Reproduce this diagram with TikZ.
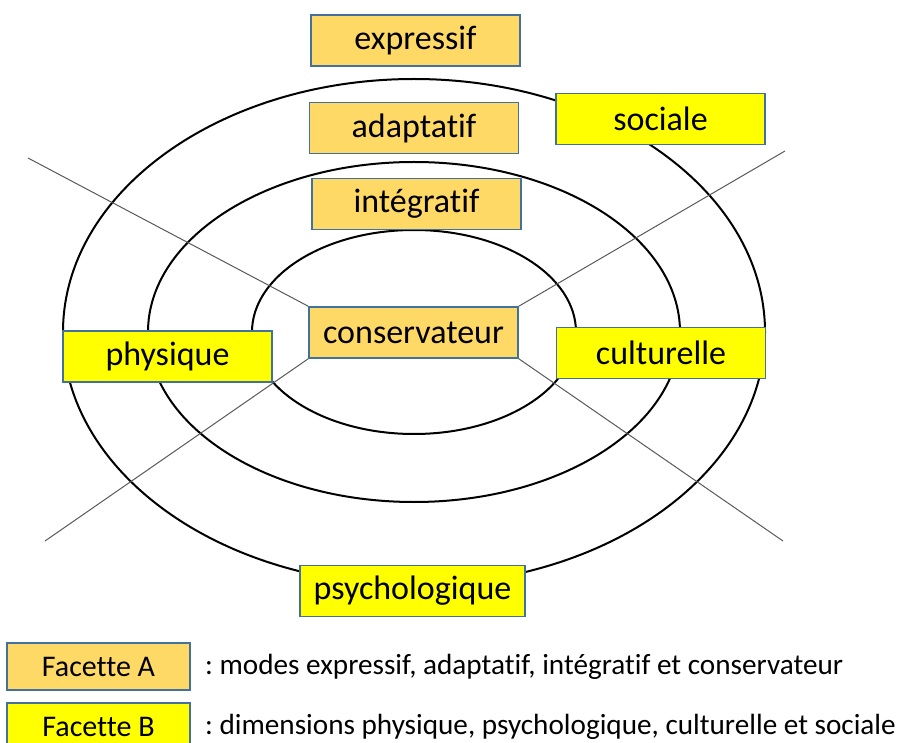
\documentclass[tikz,border=0pt]{standalone}
\usepackage{fontspec}
\setmainfont{Carlito}[RawFeature=-liga]
\usepackage{xcolor}
\usepackage{tikz}
\usetikzlibrary{positioning}
\definecolor{facetteA}{HTML}{FFD966}
\definecolor{facetteB}{HTML}{FFFF00}
\definecolor{cadre}{HTML}{41719C}
\definecolor{trait}{HTML}{595959}
\frenchspacing

\begin{document}
\begin{tikzpicture}[x=0.5pt,y=-0.5pt,
	modeA/.style={draw=cadre,line width=0.75pt,fill=facetteA,minimum width=104.5pt,minimum height=25.5pt,inner sep=0pt,font=\fontsize{17}{18}\selectfont},
	dimB/.style={modeA,fill=facetteB},
	legende/.style={draw=cadre,line width=0.75pt,minimum width=91.5pt,minimum height=23.5pt,inner sep=0pt,font=\fontsize{15}{16}\selectfont}]
	\clip (0,0) rectangle (900,743);
	% les trois anneaux
	\draw [line width=1pt] (414,332) ellipse [x radius=175.5pt, y radius=126.5pt];
	\draw [line width=1pt] (414,332) ellipse [x radius=133pt, y radius=85pt];
	\draw [line width=1pt] (414,332) ellipse [x radius=81pt, y radius=51pt];
	% facette A : les modes
	\node [modeA] (expressif) at (415.5,40.5) {expressif};
	\node [modeA] (adaptatif) at (414,128) {adaptatif};
	\node [modeA] (integratif) at (416.5,204) {intégratif};
	\node [modeA] (conservateur) at (413.5,332.5) {conservateur};
	% les axes
	\coordinate (hg) at (28,158);
	\coordinate (hd) at (785,151);
	\coordinate (bg) at (45,541);
	\coordinate (bd) at (783,541);
	\draw [trait,line width=0.5pt] (hg) -- (conservateur.north west);
	\draw [trait,line width=0.5pt] (hd) -- (conservateur.north east);
	\draw [trait,line width=0.5pt] (bg) -- (conservateur.south west);
	\draw [trait,line width=0.5pt] (bd) -- (conservateur.south east);
	% facette B : les dimensions
	\node [dimB] (sociale) at (660.5,119) {sociale};
	\node [dimB] (culturelle) at (661,353) {culturelle};
	\node [dimB] (physique) at (167.5,356.5) {physique};
	\node [dimB,minimum width=112.5pt] (psycho) at (412.5,591) {psychologique};
	% legende
	\node [legende,fill=facetteA] (legA) at (98.5,666.5) {Facette A};
	\node [legende,fill=facetteB] (legB) at (98.5,726.5) {Facette B};
	\node [right=7pt of legA,inner sep=0pt,font=\fontsize{14.6}{16}\selectfont] (texteA) {: modes expressif, adaptatif, intégratif et conservateur};
	\node [right=7pt of legB,inner sep=0pt,font=\fontsize{14.6}{16}\selectfont] (texteB) {: dimensions physique, psychologique, culturelle et sociale};
\end{tikzpicture}
\end{document}
